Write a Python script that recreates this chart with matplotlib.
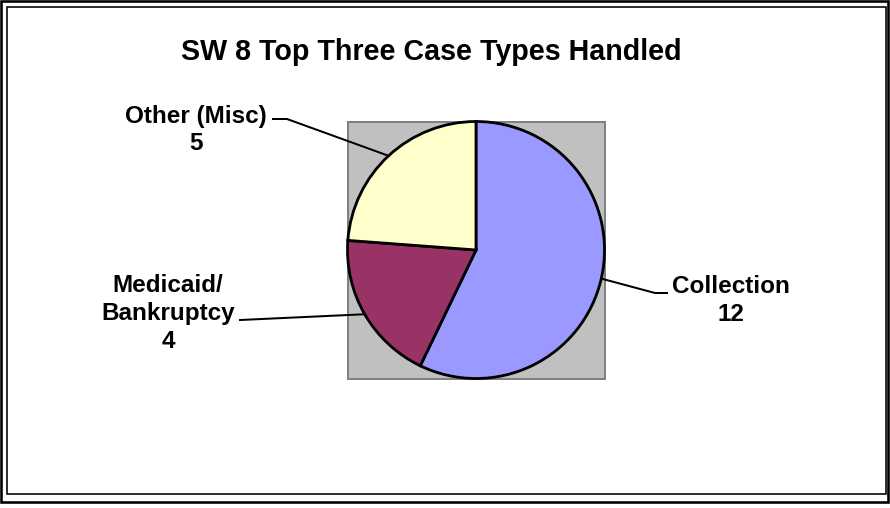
import matplotlib
matplotlib.use("Agg")
import matplotlib.pyplot as plt
from matplotlib.patches import Rectangle
from matplotlib.lines import Line2D
import numpy as np

plt.rcParams['font.family'] = ['Liberation Sans', 'DejaVu Sans']

# ---- data ----
title = "SW 8 Top Three Case Types Handled"
categories = ["Collection", "Medicaid/\nBankruptcy", "Other (Misc)"]
values = [12, 4, 5]
colors = ["#9999FF", "#993366", "#FFFFCC"]

W, H = 890, 508
fig = plt.figure(figsize=(W / 100, H / 100), dpi=100)
PX = 0.72  # points per pixel


def fx(px):
    return px / W


def fy(py):
    return (H - py) / H


# double frame
fig.patches.append(Rectangle((fx(1.2), fy(501.8)), fx(887.5 - 1.2), (501.8 - 1.2) / H,
                             transform=fig.transFigure, fill=False,
                             edgecolor="black", lw=2.6 * PX))
fig.patches.append(Rectangle((fx(6.5), fy(494)), fx(885.8 - 6.5), (494 - 7) / H,
                             transform=fig.transFigure, fill=False,
                             edgecolor="black", lw=1.6 * PX))

# pie axes (plot area)
cx, cy, r = 476, 250, 128.5
ax = fig.add_axes([fx(cx - r), fy(cy + r), 2 * r / W, 2 * r / H])

wedges, _ = ax.pie(values, colors=colors, startangle=90, counterclock=False,
                   radius=1.0, center=(0, 0), frame=True,
                   wedgeprops=dict(edgecolor="black", linewidth=2.8 * PX))
for w in wedges:
    w.set_clip_on(False)
ax.set_facecolor("#C0C0C0")
for s in ax.spines.values():
    s.set_edgecolor("#808080")
    s.set_linewidth(2 * PX)
    s.set_zorder(0.5)
ax.set_xticks([])
ax.set_yticks([])
ax.set_xlim(-1, 1)
ax.set_ylim(-1, 1)
ax.set_aspect("auto")


def d(px, py):
    return ((px - cx) / r, (cy - py) / r)


# label layout: (text center px, leader points after the wedge edge point)
layout = {
    0: dict(text=(731, 300.5), path=[(655, 293), (667, 293)]),
    1: dict(text=(168, 313.5), path=[(240, 320)]),
    2: dict(text=(196, 130), path=[(287, 119), (273, 119)]),
}

for i, w in enumerate(wedges):
    mid = np.deg2rad((w.theta1 + w.theta2) / 2)
    ex, ey = np.cos(mid), np.sin(mid)
    pts = [(ex, ey)] + [d(*p) for p in layout[i]["path"]]
    xs, ys = zip(*pts)
    ax.add_line(Line2D(xs, ys, color="black", lw=2 * PX, clip_on=False))
    tx, ty = d(*layout[i]["text"])
    ax.text(tx, ty, f"{categories[i]}\n{values[i]}", ha="center", va="center",
            fontsize=17.5, fontweight="bold", linespacing=1.25, clip_on=False)

fig.text(fx(431), fy(52), title, ha="center", va="center",
         fontsize=20.6, fontweight="bold")

fig.savefig("out.png", dpi=100, facecolor="white")
